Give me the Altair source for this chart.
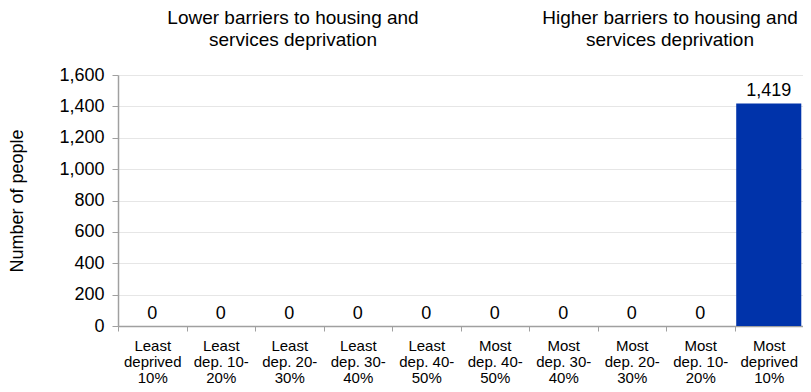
import altair as alt
import pandas as pd

categories = [
    "Least\ndeprived\n10%",
    "Least\ndep. 10-\n20%",
    "Least\ndep. 20-\n30%",
    "Least\ndep. 30-\n40%",
    "Least\ndep. 40-\n50%",
    "Most\ndep. 40-\n50%",
    "Most\ndep. 30-\n40%",
    "Most\ndep. 20-\n30%",
    "Most\ndep. 10-\n20%",
    "Most\ndeprived\n10%",
]
values = [0, 0, 0, 0, 0, 0, 0, 0, 0, 1419]
y_ticks = [0, 200, 400, 600, 800, 1000, 1200, 1400, 1600]
annotation_left = "Lower barriers to housing and\nservices deprivation"
annotation_right = "Higher barriers to housing and\nservices deprivation"

df = pd.DataFrame({"category": categories, "value": values})

FONT = "Liberation Sans"
BAR_COLOR = "#0033aa"

x_enc = alt.X(
    "category:N",
    sort=categories,
    scale=alt.Scale(paddingInner=0, paddingOuter=0),
    axis=alt.Axis(
        title=None,
        labelAngle=0,
        labelExpr="split(datum.label, '\\n')",
        labelFontSize=15,
        labelLineHeight=16,
        labelColor="black",
        labelPadding=7,
        labelOverlap=False,
        tickBand="extent",
        tickSize=5,
        tickColor="#a0a0a0",
        domainColor="#a0a0a0",
        domainWidth=1.5,
        labelFont=FONT,
    ),
)

y_enc = alt.Y(
    "value:Q",
    scale=alt.Scale(domain=[0, 1600], nice=False),
    axis=alt.Axis(
        title="Number of people",
        values=y_ticks,
        format=",d",
        labelFontSize=18,
        labelColor="black",
        labelPadding=8,
        labelOverlap=False,
        tickSize=6,
        tickColor="#a0a0a0",
        domainColor="#a0a0a0",
        domainWidth=1.5,
        gridColor="#e6e6e6",
        titleFontSize=18,
        titleFontWeight="normal",
        titleColor="black",
        titlePadding=32,
        labelFont=FONT,
        titleFont=FONT,
    ),
)

bars = alt.Chart(df).mark_bar(
    color=BAR_COLOR, width=alt.RelativeBandSize(0.95)
).encode(x=x_enc, y=y_enc)

labels = alt.Chart(df).mark_text(
    baseline="alphabetic", dy=-7, fontSize=18, font=FONT, color="black"
).encode(
    x=x_enc,
    y=y_enc,
    text=alt.Text("value:Q", format=",d"),
)

ann_left = alt.Chart(pd.DataFrame({"t": [annotation_left]})).mark_text(
    lineBreak="\n", fontSize=19, font=FONT, color="black",
    align="center", baseline="middle", lineHeight=22,
).encode(x=alt.value(175), y=alt.value(-57), text="t:N")

ann_right = alt.Chart(pd.DataFrame({"t": [annotation_right]})).mark_text(
    lineBreak="\n", fontSize=19, font=FONT, color="black",
    align="center", baseline="middle", lineHeight=22,
).encode(x=alt.value(552), y=alt.value(-57), text="t:N")

chart = alt.layer(bars, labels, ann_left, ann_right).properties(
    width=685,
    height=251,
    autosize=alt.AutoSizeParams(type="none"),
    padding={"left": 110, "top": 67, "right": 0, "bottom": 58},
).configure_view(stroke=None).configure_text(font=FONT)

chart.save("out.html", embed_options={"renderer": "svg", "actions": False})
